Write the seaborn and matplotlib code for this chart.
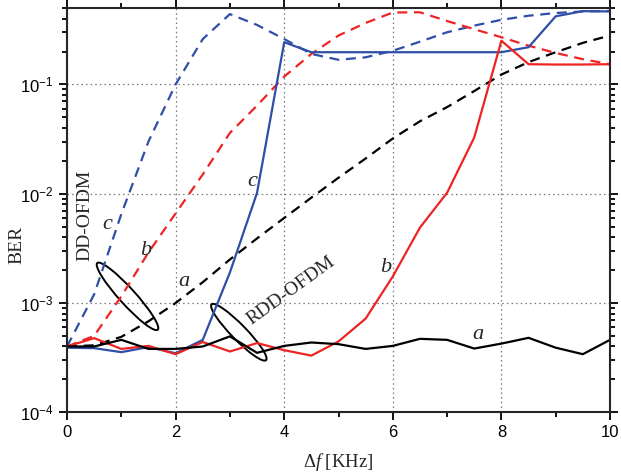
import numpy as np
import pandas as pd
import matplotlib
matplotlib.use("Agg")
import matplotlib.pyplot as plt
import seaborn as sns
from matplotlib.patches import Ellipse
from matplotlib.transforms import ScaledTranslation
from matplotlib.ticker import MultipleLocator, NullFormatter

# ---------------- data ----------------
df_khz = [0, 0.5, 1, 1.5, 2, 2.5, 3, 3.5, 4, 4.5, 5, 5.5, 6, 6.5, 7, 7.5, 8, 8.5, 9, 9.5, 10]

# DD-OFDM (dashed)
dd_a = [4.0e-4, 4.1e-4, 4.9e-4, 6.8e-4, 1.0e-3, 1.55e-3, 2.5e-3, 3.9e-3, 6.0e-3, 9.2e-3, 1.4e-2,
        2.1e-2, 3.2e-2, 4.6e-2, 6.2e-2, 8.7e-2, 0.123, 0.16, 0.197, 0.24, 0.28]
dd_b = [4.0e-4, 5.0e-4, 1.15e-3, 2.9e-3, 6.6e-3, 1.5e-2, 3.6e-2, 6.4e-2, 0.118, 0.19, 0.28,
        0.365, 0.455, 0.457, 0.38, 0.32, 0.27, 0.226, 0.194, 0.17, 0.153]
dd_c = [4.0e-4, 1.2e-3, 6.5e-3, 3.0e-2, 0.10, 0.26, 0.44, 0.35, 0.26, 0.19, 0.168,
        0.177, 0.203, 0.246, 0.30, 0.345, 0.39, 0.425, 0.45, 0.465, 0.47]

# RDD-OFDM (solid)
rdd_a = [4.0e-4, 4.0e-4, 4.6e-4, 3.8e-4, 3.8e-4, 4.0e-4, 4.95e-4, 3.5e-4, 4.05e-4, 4.35e-4, 4.2e-4,
         3.8e-4, 4.05e-4, 4.7e-4, 4.6e-4, 3.83e-4, 4.25e-4, 4.8e-4, 3.9e-4, 3.4e-4, 4.6e-4]
rdd_b = [4.0e-4, 4.77e-4, 3.8e-4, 4.05e-4, 3.4e-4, 4.4e-4, 3.6e-4, 4.3e-4, 3.7e-4, 3.3e-4, 4.45e-4,
         7.2e-4, 1.75e-3, 4.9e-3, 1.02e-2, 3.27e-2, 0.251, 0.153, 0.152, 0.152, 0.153]
rdd_c = [3.9e-4, 3.86e-4, 3.55e-4, 3.95e-4, 3.47e-4, 4.6e-4, 1.9e-3, 1.02e-2, 0.243, 0.197, 0.197,
         0.197, 0.197, 0.197, 0.197, 0.197, 0.197, 0.219, 0.42, 0.468, 0.465]

x_ticks = [0, 2, 4, 6, 8, 10]
x_label = r"$\Delta\mathit{f}\ \mathrm{[KHz]}$"
y_label = "BER"

BLUE = "#2f4fa6"
RED = "#ee2424"
BLACK = "#000000"

# ---------------- style ----------------
sns.set_style("ticks")
plt.rcParams["font.family"] = ["Liberation Sans", "DejaVu Sans"]
plt.rcParams["mathtext.fontset"] = "custom"
plt.rcParams["mathtext.rm"] = "Liberation Serif"
plt.rcParams["mathtext.it"] = "Liberation Serif:italic"

fig = plt.figure(figsize=(6.21, 4.74), dpi=100)
ax = fig.add_axes([0.1079, 0.1302, 0.8744, 0.8529])

dash = (0, (4.5, 3.0))
series = [
    (dd_c, BLUE, dash), (dd_b, RED, dash), (dd_a, BLACK, dash),
    (rdd_c, BLUE, "-"), (rdd_b, RED, "-"), (rdd_a, BLACK, "-"),
]
for vals, col, ls in series:
    d = pd.DataFrame({"x": df_khz, "y": vals})
    sns.lineplot(data=d, x="x", y="y", ax=ax, color=col, linestyle=ls, linewidth=1.6)

ax.set_yscale("log")
ax.set_xlim(0, 10)
ax.set_ylim(1e-4, 0.5)
ax.xaxis.set_major_locator(MultipleLocator(2))
ax.xaxis.set_minor_locator(MultipleLocator(1))
ax.yaxis.set_minor_formatter(NullFormatter())
ax.set_xticks(x_ticks)

ax.grid(which="major", linestyle=(0, (1.2, 2.5)), color="#777777", linewidth=0.9)
for s in ax.spines.values():
    s.set_linewidth(1.5)
    s.set_visible(True)
ax.tick_params(which="both", direction="out", top=True, right=True, width=1.3,
               labelsize=12, colors="black")
ax.tick_params(which="major", length=6)
ax.tick_params(which="minor", length=3.5)

ax.set_xlabel(x_label, fontsize=13.5)
ax.set_ylabel(y_label, fontsize=14, family="Liberation Serif")
ax.xaxis.set_label_coords(0.5, -0.095)
ax.yaxis.set_label_coords(-0.077, 0.414)

# ---------------- annotations ----------------
lab_kw = dict(fontsize=16, family="Liberation Serif", style="italic", ha="center", va="center")
ax.text(0.74, 5.2e-3, "c", **lab_kw)
ax.text(1.455, 3.0e-3, "b", **lab_kw)
ax.text(2.155, 1.57e-3, "a", **lab_kw)
ax.text(3.41, 1.3e-2, "c", **lab_kw)
ax.text(5.875, 2.1e-3, "b", **lab_kw)
ax.text(7.57, 5.1e-4, "a", **lab_kw)

ax.text(0.33, 6.3e-3, "DD-OFDM", rotation=90, fontsize=14, family="Liberation Serif",
        ha="center", va="center", rotation_mode="anchor")
ax.text(4.125, 1.3e-3, "RDD-OFDM", rotation=36, fontsize=14, family="Liberation Serif",
        ha="center", va="center", rotation_mode="anchor")

for (cx, cy, w, h, ang) in [(1.114, 1.15e-3, 0.90, 0.16, -47.8),
                            (3.164, 5.4e-4, 0.78, 0.15, -45.7)]:
    tr = fig.dpi_scale_trans + ScaledTranslation(cx, cy, ax.transData)
    e = Ellipse((0, 0), width=w, height=h, angle=ang, transform=tr,
                fill=False, edgecolor="black", linewidth=1.4)
    ax.add_artist(e)

fig.savefig("out.png", dpi=100)
